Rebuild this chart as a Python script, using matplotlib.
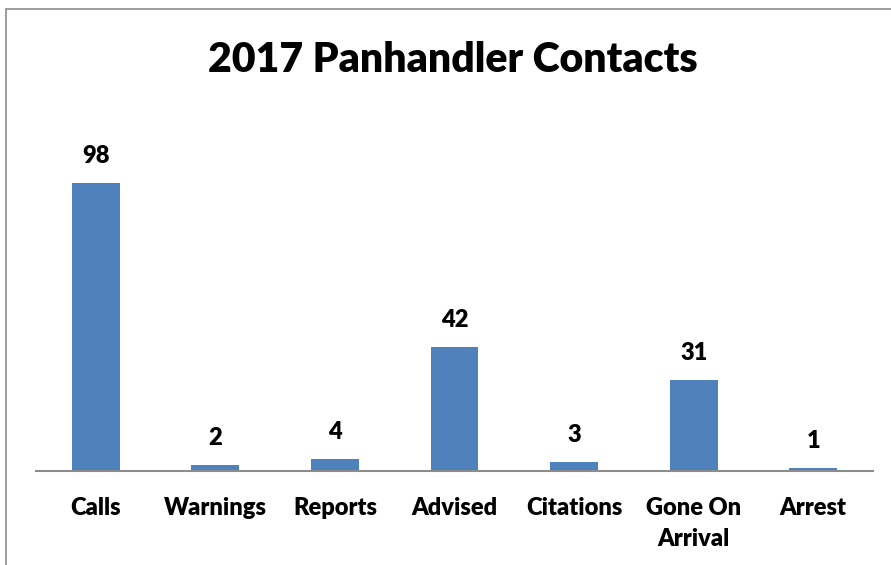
import matplotlib.pyplot as plt
from matplotlib.patches import Rectangle

plt.rcParams.update({'font.family': ['Lato', 'DejaVu Sans'], 'font.weight': 'heavy'})

# contact counts for the year
categories = ["Calls", "Warnings", "Reports", "Advised", "Citations", "Gone On\nArrival", "Arrest"]
counts = [98, 2, 4, 42, 3, 31, 1]

bar_color = "#4F81BD"

fig = plt.figure(figsize=(8.91, 5.65), dpi=100)
ax = fig.add_axes([0.0404, 0.1664, 0.9394, 0.625])

x = range(len(categories))
bars = ax.bar(x, counts, width=0.4, color=bar_color, zorder=2)

for rect, val in zip(bars, counts):
    ax.annotate(str(val), (rect.get_x() + rect.get_width() / 2, rect.get_height()),
                xytext=(0, 11.5), textcoords="offset points",
                ha="center", va="bottom", fontsize=17, fontweight="heavy")

ax.set_xlim(-0.5, len(categories) - 0.5)
ax.set_ylim(0, 120)
ax.set_xticks(list(x))
ax.set_xticklabels(categories, fontsize=17, fontweight="heavy", linespacing=1.5)
ax.tick_params(axis="x", length=0, pad=18.5)
ax.set_yticks([])

for side in ["top", "right", "left"]:
    ax.spines[side].set_visible(False)
ax.spines["bottom"].set_color("#8C8C8C")
ax.spines["bottom"].set_linewidth(1.5)

fig.text(0.508, 0.894, "2017 Panhandler Contacts", ha="center", va="center",
         fontsize=29.5, fontweight="heavy")

# outer chart border
fig.patches.append(Rectangle((6 / 891, -0.1), 1.2, 1 - 9 / 565 + 0.1,
                             transform=fig.transFigure, fill=False,
                             edgecolor="#8C8C8C", linewidth=1.2))

plt.savefig("out.png", dpi=100)
